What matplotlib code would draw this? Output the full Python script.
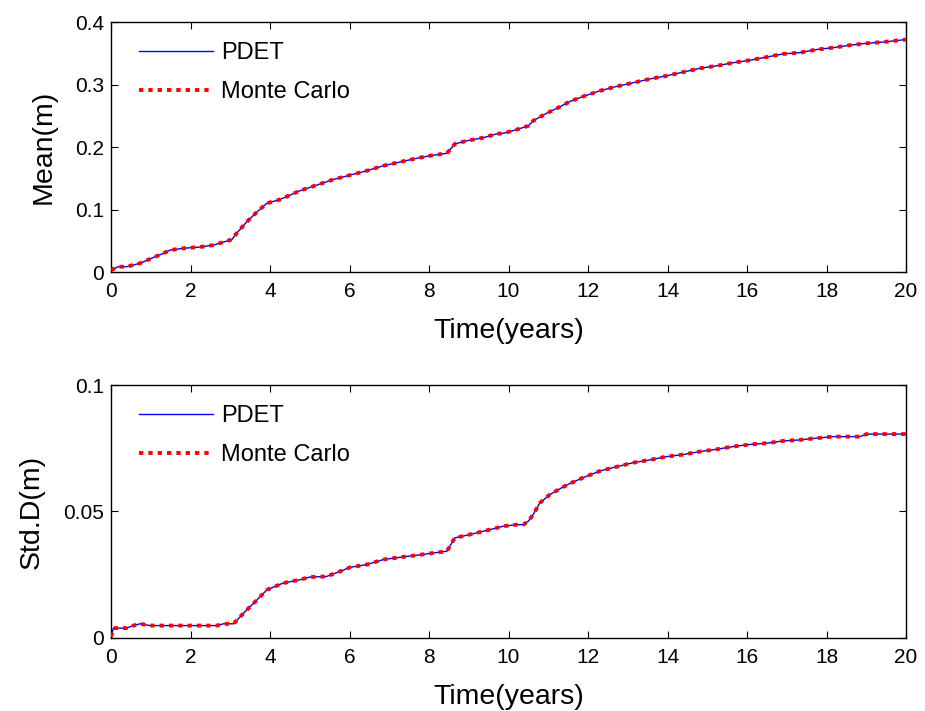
import matplotlib
matplotlib.use("Agg")
import matplotlib.pyplot as plt
import numpy as np

plt.rcParams['font.family'] = ['Liberation Sans', 'DejaVu Sans']

# Mean curve (time in years, mean in m)
mean_t = [0.0, 0.18, 0.39, 0.73, 1.02, 1.32, 1.48, 1.82, 2.24, 2.57, 3.04, 3.16, 3.41, 3.67, 3.92,
          4.25, 4.75, 5.17, 5.59, 6.01, 6.43, 6.85, 7.27, 7.69, 8.11, 8.45, 8.65, 8.95, 9.37, 9.70,
          9.87, 10.21, 10.50, 10.62, 10.96, 11.25, 11.55, 11.88, 12.30, 12.72, 13.14, 13.56, 13.98,
          14.40, 14.82, 15.24, 15.66, 16.08, 16.50, 16.91, 17.33, 17.75, 18.17, 18.59, 19.01, 19.43, 20.0]
mean_v = [0.003, 0.0085, 0.0085, 0.014, 0.022, 0.030, 0.035, 0.038, 0.040, 0.043, 0.052, 0.062, 0.080,
          0.096, 0.110, 0.116, 0.130, 0.139, 0.148, 0.155, 0.162, 0.170, 0.176, 0.182, 0.187, 0.190,
          0.205, 0.210, 0.215, 0.221, 0.222, 0.228, 0.234, 0.242, 0.254, 0.263, 0.273, 0.281, 0.290,
          0.297, 0.303, 0.309, 0.314, 0.320, 0.326, 0.330, 0.335, 0.339, 0.344, 0.349, 0.351, 0.356,
          0.359, 0.363, 0.366, 0.368, 0.372]

# Standard deviation curve
std_t = [0.0, 0.06, 0.39, 0.56, 0.73, 0.98, 2.66, 2.83, 3.08, 3.41, 3.67, 3.92, 4.33, 4.75, 5.0,
         5.42, 5.76, 6.01, 6.43, 6.85, 7.27, 7.69, 8.11, 8.45, 8.65, 8.95, 9.37, 9.70, 9.87, 10.21,
         10.37, 10.50, 10.62, 10.79, 11.04, 11.34, 11.55, 11.88, 12.30, 12.72, 13.14, 13.56, 13.98,
         14.40, 14.82, 15.24, 15.66, 16.08, 16.50, 16.91, 17.33, 17.75, 18.17, 18.84, 19.01, 20.0]
std_v = [0.0005, 0.0039, 0.0039, 0.0049, 0.0056, 0.0049, 0.0049, 0.0056, 0.0056, 0.011, 0.015, 0.019,
         0.0217, 0.023, 0.0241, 0.0243, 0.0263, 0.0279, 0.029, 0.031, 0.0319, 0.0327, 0.0336, 0.0343,
         0.0396, 0.0406, 0.0422, 0.0435, 0.0442, 0.0448, 0.0448, 0.0462, 0.0488, 0.0534, 0.0567,
         0.0594, 0.0611, 0.0634, 0.066, 0.0677, 0.0693, 0.0704, 0.0717, 0.0725, 0.0737, 0.0746,
         0.0757, 0.0765, 0.077, 0.0779, 0.0783, 0.079, 0.0796, 0.0796, 0.0806, 0.0806]

xticks = [0, 2, 4, 6, 8, 10, 12, 14, 16, 18, 20]
mean_ticks = [0, 0.1, 0.2, 0.3, 0.4]
mean_ticklabels = ['0', '0.1', '0.2', '0.3', '0.4']
std_ticks = [0, 0.05, 0.1]
std_ticklabels = ['0', '0.05', '0.1']

fig = plt.figure(figsize=(9.25, 7.11), dpi=100)
ax1 = fig.add_axes([0.12, 0.6174, 0.8595, 0.3516])
ax2 = fig.add_axes([0.12, 0.1027, 0.8595, 0.3558])


def style(ax, t, v, yt, ytl, ylim, ylabel):
    ax.plot(t, v, color='#0000ff', lw=1.0, label='PDET', zorder=2)
    ax.plot(t, v, color='#ff0000', lw=2.8, dashes=(1.1, 1.3),
            label='Monte Carlo', zorder=3)
    ax.set_xlim(0, 20)
    ax.set_ylim(*ylim)
    ax.set_xticks(xticks)
    ax.set_xticklabels([str(x) for x in xticks])
    ax.set_yticks(yt)
    ax.set_yticklabels(ytl)
    ax.tick_params(direction='in', top=True, right=True, length=5, width=0.8,
                   labelsize=15, colors='black')
    ax.tick_params(axis='x', pad=7.5)
    ax.tick_params(axis='y', pad=5)
    for s in ax.spines.values():
        s.set_linewidth(1.0)
    ax.set_xlabel('Time(years)', fontsize=20.5, labelpad=12)
    ax.set_ylabel(ylabel, fontsize=20.5, labelpad=13)
    ax.legend(loc='upper left', frameon=False, fontsize=17, handlelength=3.1,
              handletextpad=0.35, labelspacing=0.7, borderaxespad=0.3,
              bbox_to_anchor=(0.015, 0.985))


style(ax1, mean_t, mean_v, mean_ticks, mean_ticklabels, (0, 0.4), 'Mean(m)')
style(ax2, std_t, std_v, std_ticks, std_ticklabels, (0, 0.1), 'Std.D(m)')

fig.savefig('out.png', dpi=100)
